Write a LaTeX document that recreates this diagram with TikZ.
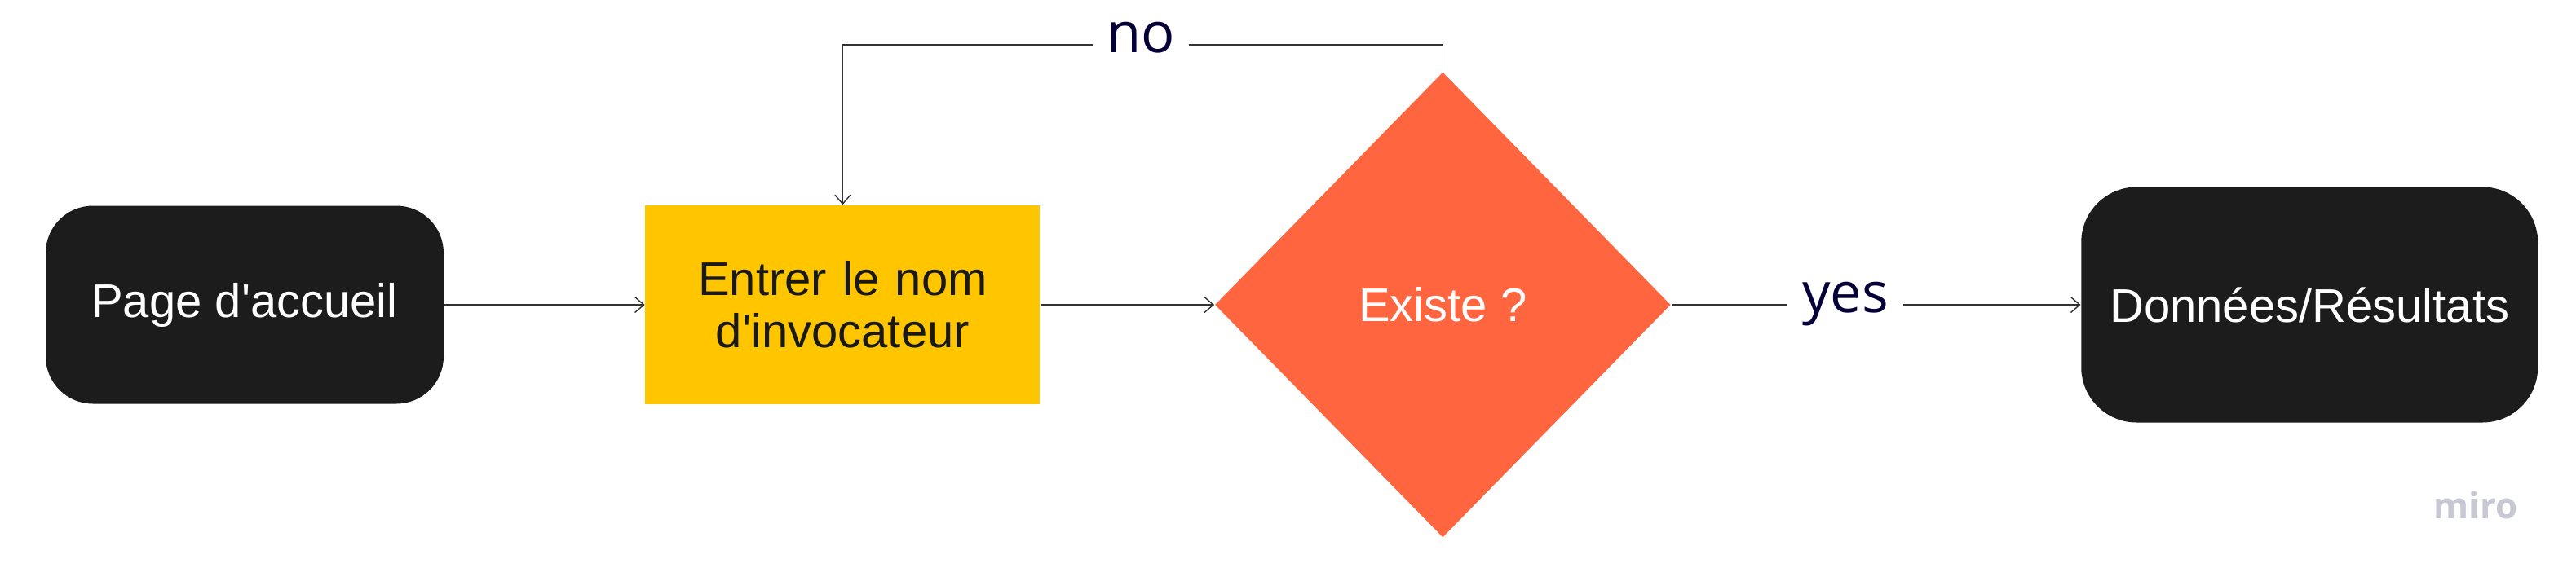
\documentclass[tikz,border=0pt]{standalone}
\usepackage{fontspec}
\setmainfont{Liberation Sans}
\newfontfamily\labelfont{Open Sans}
\usetikzlibrary{arrows.meta,positioning,shapes.geometric}
\definecolor{boxblack}{HTML}{1C1C1C}
\definecolor{boxyellow}{HTML}{FFC600}
\definecolor{boxorange}{HTML}{FF6640}
\definecolor{linegray}{HTML}{333333}
\definecolor{labelnavy}{HTML}{050038}
\definecolor{mirogray}{HTML}{C8C8D4}
\tikzset{
    %Define standard arrow tip
    >={Straight Barb[length=1.1mm,width=1.9mm]},
    line width=0.8pt,
    flow/.style={
      draw=linegray},
    darkbox/.style={
      rectangle,
      rounded corners=5.8mm,
      fill=boxblack,
      text=white,
      minimum width=4.88cm,
      minimum height=2.43cm,
      font=\fontsize{16.5}{19}\selectfont,
      text centered},
    inputbox/.style={
      rectangle,
      fill=boxyellow,
      text=black!90,
      minimum width=4.84cm,
      minimum height=2.44cm,
      text width=4.4cm,
      align=center,
      font=\fontsize{16.5}{18.2}\selectfont},
    testbox/.style={
      diamond,
      fill=boxorange,
      text=white,
      minimum width=5.59cm,
      minimum height=5.71cm,
      inner sep=0pt,
      font=\fontsize{16.5}{19}\selectfont,
      text centered},
    edgelabel/.style={
      fill=white,
      text=labelnavy,
      inner xsep=0.17cm,
      inner ysep=0pt,
      text height=1ex,
      text depth=0pt,
      font=\labelfont\fontsize{19.5}{22}\selectfont},
    watermark/.style={
      text=mirogray,
      font=\labelfont\bfseries\fontsize{12.5}{14}\selectfont},
}

\begin{document}
\begin{tikzpicture}
    \useasboundingbox (0,0) rectangle (31.59,7.12);
    \node (page) [darkbox] at (3.00,3.38)
          {Page d\textquotesingle accueil};
    \node (entrer) [inputbox] [right=2.46cm of page]
          {Entrer le nom d\textquotesingle invocateur};
    \node (existe) [testbox] [right=2.13cm of entrer]
          {Existe ?};
    \node (data) [darkbox] [right=5.02cm of existe,
                            minimum width=5.60cm, minimum height=2.89cm,
                            rounded corners=6.8mm]
          {Données/Résultats};
    \node (no) [edgelabel] at (13.99,6.57)
          {no};
    \node (yes) [edgelabel] at (22.63,0 |- existe)
          {yes};
    \node (miro) [watermark] at (30.36,0.92)
          {miro};

    \draw [flow,->] (page) -- (entrer);
    \draw [flow,->] (entrer) -- (existe);
    \draw [flow] (existe.north) |- (no);
    \draw [flow,->] (no) -| (entrer.north);
    \draw [flow] (existe) -- (yes);
    \draw [flow,->] (yes) -- (data);
\end{tikzpicture}
\end{document}
